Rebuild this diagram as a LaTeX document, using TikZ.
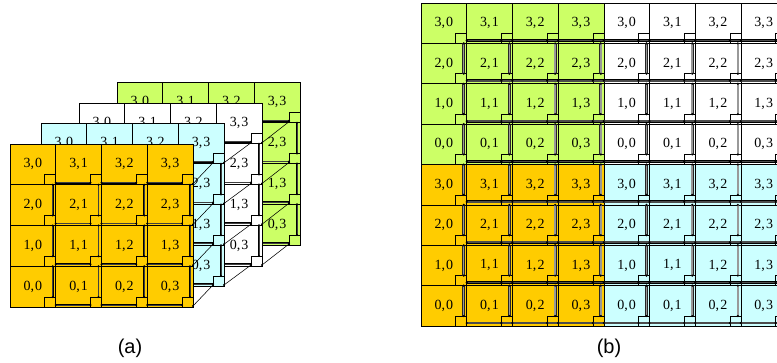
\documentclass[tikz,border=0pt]{standalone}
\usepackage{fontspec}
\setmainfont{Liberation Serif}
\newfontfamily\capfont{Liberation Sans}
\definecolor{cgreen}{RGB}{204,255,102}
\definecolor{corange}{RGB}{255,204,0}
\definecolor{ccyan}{RGB}{204,255,255}
\tikzset{
  cellbox/.style={draw=black, line width=0.6pt},
  router/.style={draw=black, line width=0.6pt},
  linkA/.style={draw=black, line width=0.55pt, double=black!75, double distance=0.7pt},
  linkB/.style={draw=black, line width=0.55pt, double=black!70, double distance=1.7pt},
  linkV/.style={draw=black!85, line width=0.65pt, double=black!40, double distance=1.5pt},
  diag/.style={draw=black, line width=0.55pt},
  lab/.style={font=\fontsize{14}{14}\selectfont, inner sep=0pt},
  caplab/.style={font=\capfont\fontsize{20}{20}\selectfont, inner sep=0pt},
}
% one 4x4 layer of part (a): #1 x0, #2 y0, #3 colour, #4 name prefix
\newcommand\meshlayer[4]{%
  \fill[#3] (#1,#2) rectangle ++(183,163);
  \foreach \r in {0,...,3}{\foreach \c in {0,...,3}{%
    \pgfmathsetmacro\xl{#1+\c*45.75}\pgfmathsetmacro\yt{#2+(3-\r)*40.75}%
    \draw[cellbox] (\xl,\yt) rectangle ++(45.75,40.75);
    \node[lab] (#4-\r-\c) at (\xl+22.9,\yt+20.4) {\r,\kern1.2pt\c};
  }}
  \foreach \r in {0,...,3}{\foreach \c in {0,...,3}{%
    \pgfmathsetmacro\xr{#1+(\c+1)*45.75}\pgfmathsetmacro\yb{#2+(4-\r)*40.75}%
    \draw[router] (\xr-11,\yb-10) rectangle (\xr,\yb);
    \ifnum\c<3
      \draw[linkA] (\xr,\yb-2) -- (\xr+34.75,\yb-2);
      \fill (\xr,\yb-2) circle (1.2pt) (\xr+34.75,\yb-2) circle (1.2pt);
    \fi
    \ifnum\r>0
      \draw[linkA] (\xr-3,\yb) -- (\xr-3,\yb+30.75);
      \fill (\xr-3,\yb) circle (1.2pt) (\xr-3,\yb+30.75) circle (1.2pt);
    \fi
  }}
}
% diagonal links between right columns of two layers: #1,#2 front origin; #3,#4 back origin
\newcommand\depthlinks[4]{%
  \foreach \r in {0,...,3}{%
    \pgfmathsetmacro\ya{#2+(4-\r)*40.75}\pgfmathsetmacro\yc{#4+(4-\r)*40.75}%
    \draw[diag] (#1+183,\ya-1) -- (#3+172,\yc-1);
    \fill (#1+183,\ya-1) circle (1.1pt) (#3+172,\yc-1) circle (1.1pt);
  }
}
\begin{document}
\begin{tikzpicture}[x=1pt,y=-1pt]
\clip (0,0) rectangle (777,362);
\fill[white] (0,0) rectangle (777,362);
% ---------- part (a) ----------
\meshlayer{117}{82}{cgreen}{g}
\meshlayer{79}{103}{white}{w}
\meshlayer{41}{123}{ccyan}{c}
\meshlayer{10}{144}{corange}{o}
\depthlinks{79}{103}{117}{82}
\depthlinks{41}{123}{79}{103}
\depthlinks{10}{144}{41}{123}
\node[caplab] (capa) at (130,348) {(a)};
% ---------- part (b) ----------
\foreach \r in {0,...,7}{\foreach \c in {0,...,7}{%
  \pgfmathsetmacro\xl{421+\c*45.7}\pgfmathsetmacro\yt{3+(7-\r)*40.375}%
  \pgfmathtruncatemacro\lr{mod(\r,4)}\pgfmathtruncatemacro\lc{mod(\c,4)}%
  \ifnum\r>3
    \ifnum\c<4 \def\cc{cgreen}\else\def\cc{white}\fi
  \else
    \ifnum\c<4 \def\cc{corange}\else\def\cc{ccyan}\fi
  \fi
  \fill[\cc] (\xl,\yt) rectangle ++(45.7,40.375);
  \draw[cellbox] (\xl,\yt) rectangle ++(45.7,40.375);
  \node[lab] (b-\r-\c) at (\xl+22.85,\yt+20.2) {\lr,\kern1.2pt\lc};
}}
\foreach \r in {0,...,7}{\foreach \c in {0,...,7}{%
  \pgfmathsetmacro\xr{421+(\c+1)*45.7}\pgfmathsetmacro\yb{3+(8-\r)*40.375}%
  \draw[router] (\xr-11,\yb-10) rectangle (\xr,\yb);
}}
\foreach \r in {0,...,7}{\foreach \c in {0,...,7}{%
  \pgfmathsetmacro\xr{421+(\c+1)*45.7}\pgfmathsetmacro\yb{3+(8-\r)*40.375}%
  \ifnum\r>0
    \draw[linkV] (\xr-3,\yb) -- (\xr-3,\yb+30.375);
    \fill (\xr-3,\yb) circle (1.2pt) (\xr-3,\yb+30.375) circle (1.2pt);
  \fi
  \ifnum\c<7
    \draw[linkB] (\xr,\yb-3) -- (\xr+45.7,\yb-3);
    \fill (\xr,\yb-3) circle (1.2pt) (\xr+34.7,\yb-3) circle (1.2pt);
  \fi
}}
\node[caplab] (capb) at (609,348) {(b)};
\end{tikzpicture}
\end{document}
